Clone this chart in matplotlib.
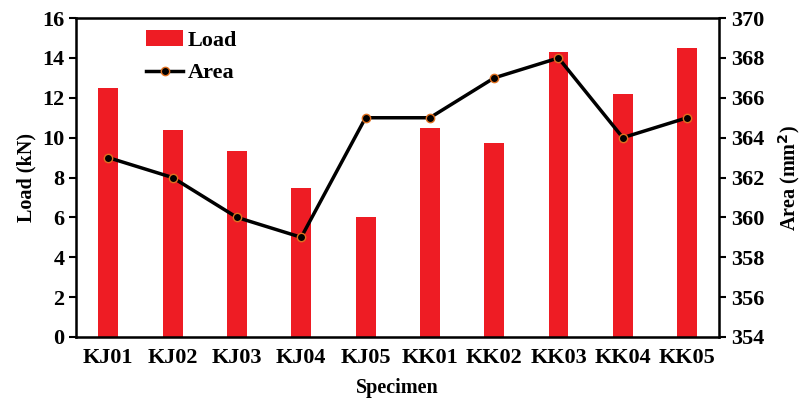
import matplotlib.pyplot as plt
import numpy as np

plt.rcParams['font.family'] = ['Liberation Serif', 'DejaVu Serif']
plt.rcParams['font.weight'] = 'bold'

specimens = ['KJ01', 'KJ02', 'KJ03', 'KJ04', 'KJ05', 'KK01', 'KK02', 'KK03', 'KK04', 'KK05']
load = [12.5, 10.4, 9.35, 7.45, 6.0, 10.5, 9.75, 14.3, 12.2, 14.5]
area = [363, 362, 360, 359, 365, 365, 367, 368, 364, 365]

fig = plt.figure(figsize=(8.01, 4.03), dpi=100)
ax1 = fig.add_axes([0.095, 0.164, 0.803, 0.791])
ax2 = ax1.twinx()

x = np.arange(len(specimens))
bars = ax1.bar(x, load, width=0.31, color='#ee1c24', label='Load', zorder=2)
line, = ax2.plot(x, area, color='black', lw=2.5, marker='o', ms=6,
                 mfc='black', mec='#e07020', mew=1, label='Area')

ax1.set_ylim(0, 16)
ax1.set_yticks(range(0, 17, 2))
ax2.set_ylim(354, 370)
ax2.set_yticks(range(354, 371, 2))
ax1.set_xlim(-0.5, 9.5)
ax1.set_xticks(x)
ax1.set_xticklabels(specimens)
ax1.tick_params(axis='x', length=0, labelsize=16, pad=8)
ax1.tick_params(axis='y', labelsize=16, width=1.5, length=5)
ax2.tick_params(axis='y', labelsize=16, width=1.5, length=5)

ax1.set_xlabel('Specimen', fontsize=14.5, fontweight='bold', labelpad=7)
ax1.set_ylabel('Load (kN)', fontsize=14.5, fontweight='bold')
ax2.set_ylabel('Area (mm$^\\mathbf{2}$)', fontsize=14.5, fontweight='bold', labelpad=8)

for sp in ax2.spines.values():
    sp.set_linewidth(1.8)

ax1.legend([bars, line], ['Load', 'Area'], loc='upper left',
           bbox_to_anchor=(0.077, 1.025), frameon=False, fontsize=16,
           handlelength=1.7, labelspacing=0.55, handletextpad=0.2)

fig.savefig('out.png', dpi=100)
